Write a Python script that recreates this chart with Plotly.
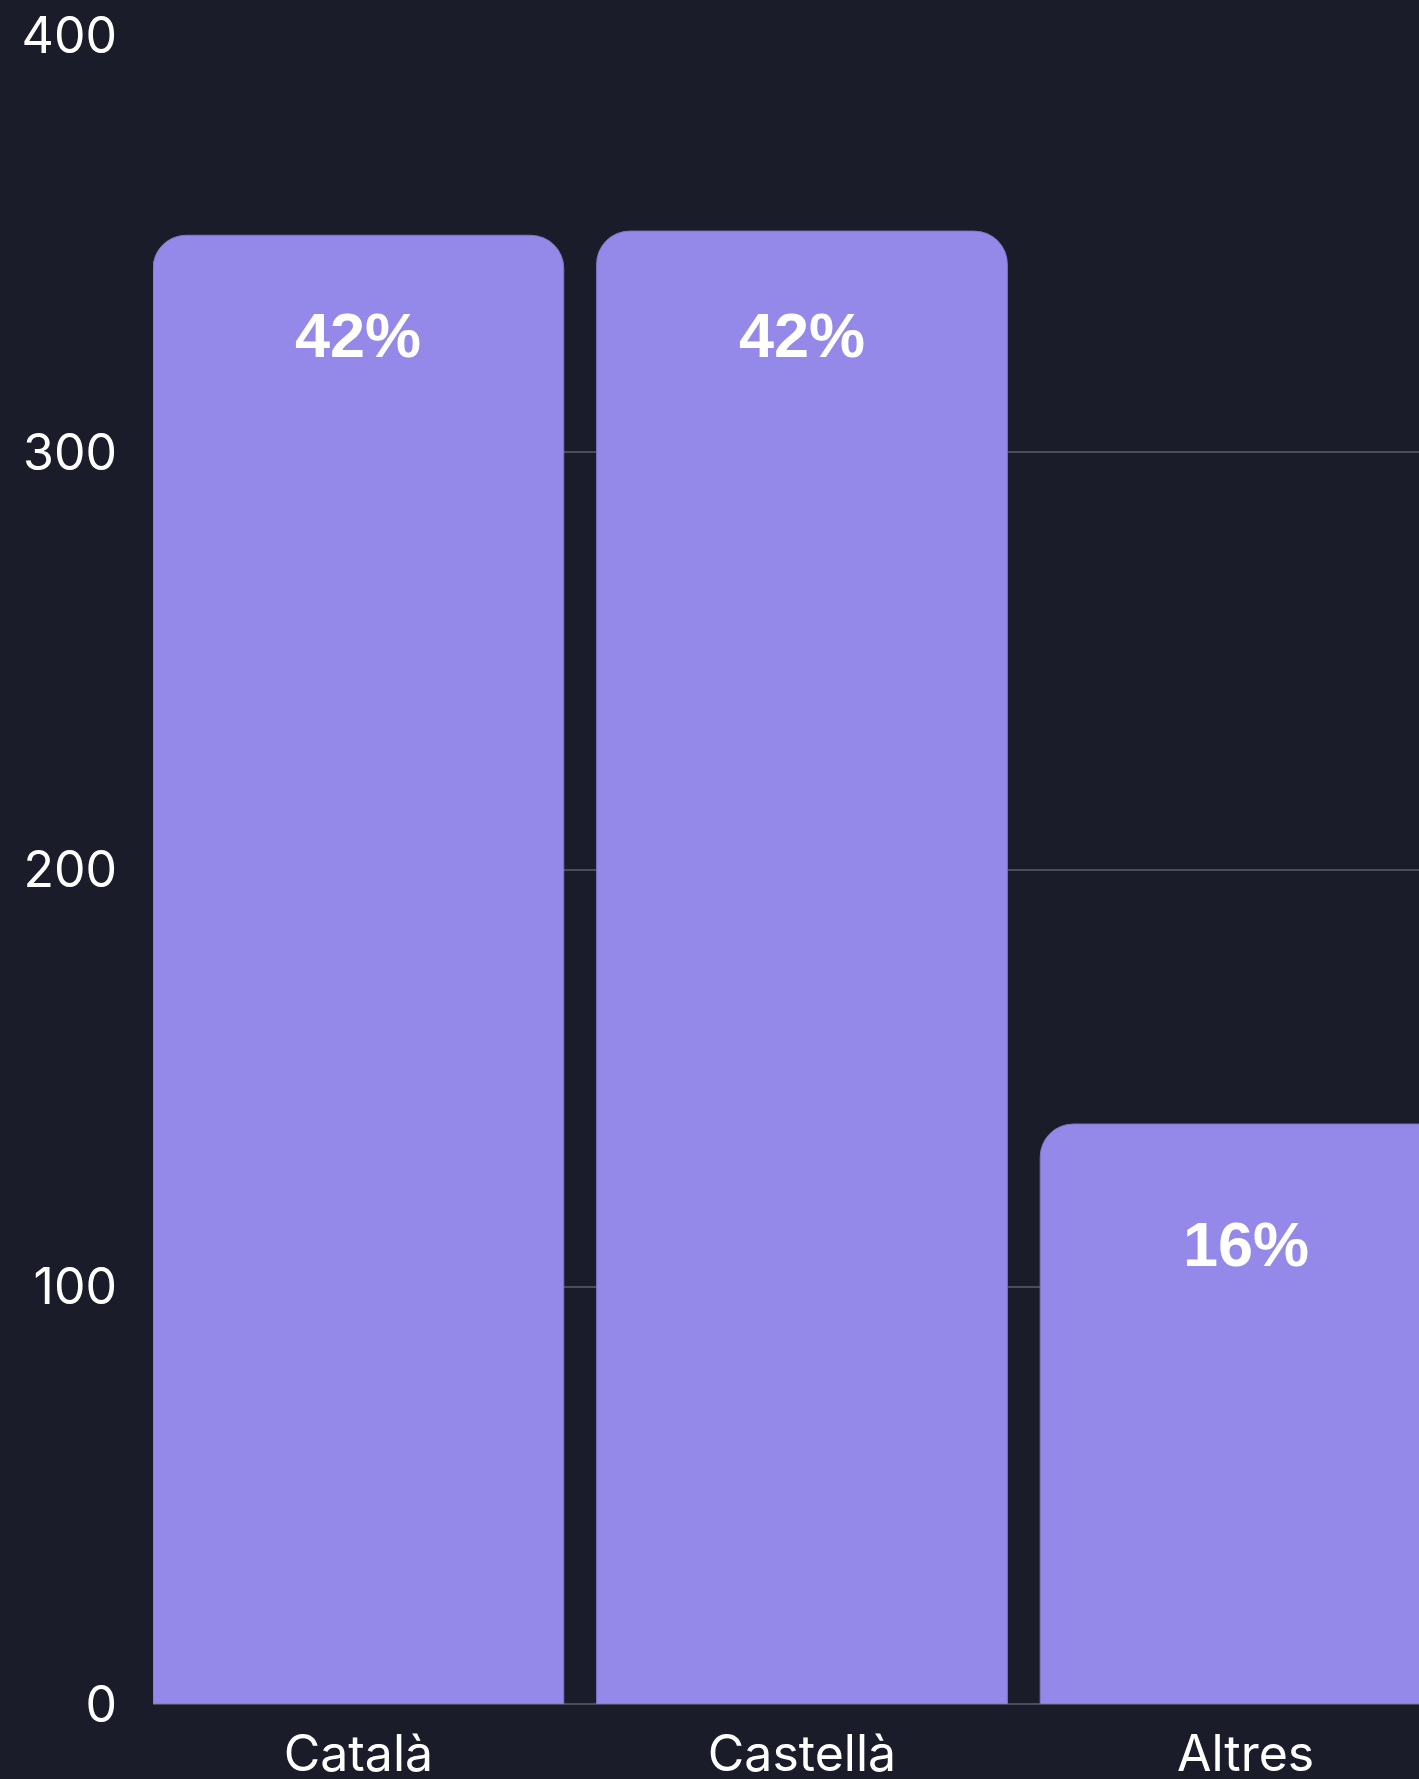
import plotly.graph_objects as go

categories = ["Català", "Castellà", "Altres"]
values = [352, 353, 139]
pct_labels = ["42%", "42%", "16%"]
y_ticks = [0, 100, 200, 300, 400]

BG = "#1a1d29"
BAR = "#9488e8"
GRID = "#4b4e5a"

fig = go.Figure()
fig.add_trace(go.Bar(
    x=categories, y=values,
    marker=dict(color=BAR, line=dict(color="#7f76c8", width=1)),
    hoverinfo="skip",
))

label_shift = [-100, -104, -120]
for c, v, t, s in zip(categories, values, pct_labels, label_shift):
    fig.add_annotation(x=c, y=v, text=t, showarrow=False, yanchor="middle",
                       yshift=s, font=dict(family="Liberation Sans", size=63, color="white", weight="bold"))

fig.update_layout(
    width=1419, height=1779,
    margin=dict(l=153, r=0, t=35, b=75, autoexpand=False),
    paper_bgcolor=BG, plot_bgcolor=BG,
    bargap=0.074, barcornerradius=33,
    showlegend=False,
    font=dict(family="Inter", color="white", size=50),
)
fig.update_xaxes(range=[-0.463, 2.391], showgrid=False, zeroline=False, showline=False, automargin=False,
                 ticks="", tickfont=dict(size=50, color="white"), ticklabelstandoff=16)
fig.update_yaxes(range=[0, 400], tickvals=y_ticks, showgrid=True, gridcolor=GRID, gridwidth=1.5,
                 zeroline=True, zerolinecolor=GRID, zerolinewidth=1.5, showline=False, automargin=False,
                 ticks="", tickfont=dict(size=50, color="white"), ticklabelstandoff=35)

fig.write_html("out.html", config={"displayModeBar": False},
               post_script="document.body.style.margin='0';document.body.style.overflow='hidden';document.body.style.background='#1a1d29';")
